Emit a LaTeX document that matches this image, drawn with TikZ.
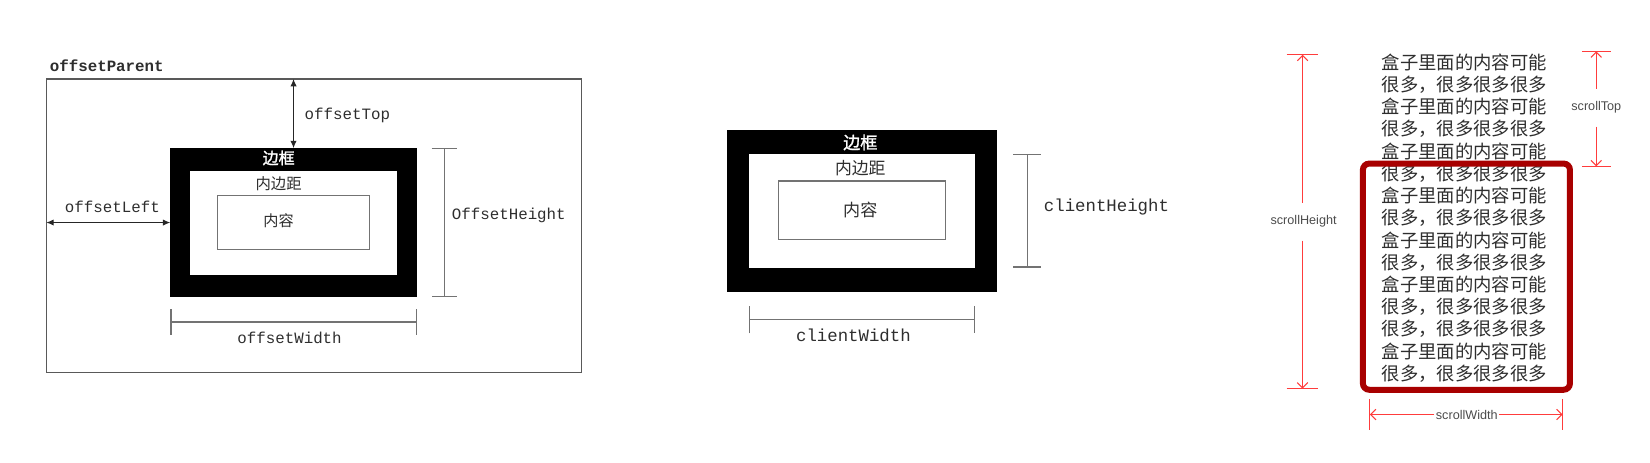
\documentclass[tikz,border=0pt]{standalone}
\usepackage{fontspec}
\setmainfont{Liberation Sans}
\setsansfont{Liberation Sans}
\setmonofont{Liberation Mono}
\newfontfamily\cjk{Noto Sans CJK SC}
\newfontfamily\cjkbold[FakeBold=1.5]{Noto Sans CJK SC}
\usetikzlibrary{arrows.meta,calc}
\definecolor{boxred}{HTML}{A80000}
\definecolor{dimred}{HTML}{FF3C3C}
\definecolor{txtgray}{HTML}{2E2E2E}
\tikzset{
  box/.style={inner sep=0pt,outer sep=0pt},
  mono/.style={inner sep=0pt,text=txtgray,font=\ttfamily\fontsize{7.5bp}{9bp}\selectfont},
  monobig/.style={inner sep=0pt,text=txtgray,font=\ttfamily\fontsize{8.25bp}{10bp}\selectfont},
  hanzi/.style={inner sep=0pt,text=txtgray,font=\cjk\fontsize{#1}{#1}\selectfont},
  hanzibold/.style={inner sep=0pt,text=white,font=\cjkbold\fontsize{#1}{#1}\selectfont},
  dimgray/.style={draw=black!55,line width=0.6bp,arrows={Bar[width=12bp]-Bar[width=12bp]}},
  blackarrow/.style={draw=black!85,line width=0.5bp,>={Latex[length=3.5bp,width=3bp]},<->},
  redline/.style={draw=dimred,line width=0.5bp},
  redarrow/.style={redline,>={Straight Barb[length=2.5bp,width=5bp]},->},
  redlabel/.style={inner xsep=0.5bp,inner ysep=6bp,text=black!70,font=\sffamily\fontsize{6bp}{7bp}\selectfont},
  scrolltxt/.style={inner sep=0pt,anchor=west,text=txtgray,font=\cjk\fontsize{8.7bp}{10bp}\selectfont}
}
\begin{document}
\begin{tikzpicture}[x=0.5bp,y=-0.5bp]
  \useasboundingbox (0,0) rectangle (1567,438.8);

  % offsetParent
  \path (298,214.5) node[box,draw=black!65,line width=0.7bp,minimum width=254bp,minimum height=139.5bp] (parent) {};
  \path (47,62.3) node[mono,anchor=west,font=\ttfamily\bfseries\fontsize{7.5bp}{9bp}\selectfont] (parentlab) {offsetParent};
  \path (278.75,211.35) node[box,fill=black,minimum width=117.05bp,minimum height=70.65bp] (border1) {};
  \path (278.8,211.35) node[box,fill=white,minimum width=98.2bp,minimum height=49.35bp] (pad1) {};
  \path (278.6,211.4) node[box,draw=black!55,line width=0.5bp,minimum width=72bp,minimum height=25.6bp] (cont1) {};
  \path (264.6,150) node[hanzibold=7.6bp] (border1lab) {边框};
  \path (264.6,174) node[hanzi=7.3bp] (pad1lab) {内边距};
  \path (264.6,210) node[hanzi=7.2bp] (cont1lab) {内容};

  \draw[blackarrow] (parent.north -| border1.north) -- (border1.north);
  \path (289,110) node[mono,anchor=west] (toplab) {offsetTop};
  \draw[blackarrow] (parent.west |- border1.west) -- (border1.west);
  \path (106.7,196) node[mono] (leftlab) {offsetLeft};
  \coordinate (ohx) at (422,0);
  \draw[dimgray] (ohx |- border1.north) -- (ohx |- border1.south);
  \path (428.8,205) node[mono,anchor=west] (ohlab) {OffsetHeight};
  \coordinate (owy) at (0,305.8);
  \draw[dimgray] (border1.west |- owy) -- (border1.east |- owy);
  \path (275,321) node[mono] (owlab) {offsetWidth};

  % client
  \path (818.25,200.3) node[box,fill=black,minimum width=128.25bp,minimum height=77.3bp] (border2) {};
  \path (818.55,200.1) node[box,fill=white,minimum width=107.45bp,minimum height=54.1bp] (pad2) {};
  \path (818.4,199.8) node[box,draw=black!55,line width=0.5bp,minimum width=79.2bp,minimum height=27.9bp] (cont2) {};
  \path (817,135.3) node[hanzibold=8.1bp] (border2lab) {边框};
  \path (817,160) node[hanzi=8bp] (pad2lab) {内边距};
  \path (817,199.4) node[hanzi=8.1bp] (cont2lab) {内容};
  \coordinate (chx) at (975.5,0);
  \draw[dimgray,arrows={Bar[width=13bp]-Bar[width=13bp]}] (chx |- pad2.north) -- (chx |- pad2.south);
  \path (991,196.8) node[monobig,anchor=west] (chlab) {clientHeight};
  \coordinate (cwy) at (0,303.5);
  \draw[dimgray,arrows={Bar[width=13bp]-Bar[width=13bp]}] (pad2.west |- cwy) -- (pad2.east |- cwy);
  \path (810.5,318.6) node[monobig] (cwlab) {clientWidth};

  % scroll
  \foreach \txt [count=\i] in {盒子里面的内容可能,很多，很多很多很多,盒子里面的内容可能,很多，很多很多很多,
    盒子里面的内容可能,很多，很多很多很多,盒子里面的内容可能,很多，很多很多很多,盒子里面的内容可能,
    很多，很多很多很多,盒子里面的内容可能,很多，很多很多很多,很多，很多很多很多,盒子里面的内容可能,
    很多，很多很多很多}
    \path (1312,{59+21.14*(\i-1)}) node[scrolltxt] (row\i) {\txt};
  \path (1392.65,262.75) node[box,draw=boxred,line width=2.85bp,rounded corners=3bp,
    minimum width=98.3bp,minimum height=107.4bp] (scrollbox) {};

  \coordinate (sht) at (1237,52);
  \coordinate (shb) at (1237,369);
  \draw[redline] ([xshift=-7.5bp]sht) -- ([xshift=7.5bp]sht);
  \draw[redline] ([xshift=-7.5bp]shb) -- ([xshift=7.5bp]shb);
  \path (1238,210.5) node[redlabel] (shlab) {scrollHeight};
  \draw[redarrow] (shlab.north -| sht) -- (sht);
  \draw[redarrow] (shlab.south -| shb) -- (shb);

  \coordinate (stt) at (1516,48.8);
  \coordinate (stb) at (1516,158);
  \draw[redline] ([xshift=-6.9bp]stt) -- ([xshift=6.9bp]stt);
  \draw[redline] ([xshift=-6.9bp]stb) -- ([xshift=6.9bp]stb);
  \path (1516,102.3) node[redlabel] (stlab) {scrollTop};
  \draw[redarrow] (stlab.north -| stt) -- (stt);
  \draw[redarrow] (stlab.south -| stb) -- (stb);

  \coordinate (swl) at (1301,393.7);
  \coordinate (swr) at (1484,393.7);
  \draw[redline] ([yshift=7.5bp]swl) -- ([yshift=-7.5bp]swl);
  \draw[redline] ([yshift=7.5bp]swr) -- ([yshift=-7.5bp]swr);
  \path (1393,393.7) node[redlabel,inner ysep=1bp] (swlab) {scrollWidth};
  \draw[redarrow] (swlab.west) -- (swl);
  \draw[redarrow] (swlab.east) -- (swr);
\end{tikzpicture}
\end{document}
